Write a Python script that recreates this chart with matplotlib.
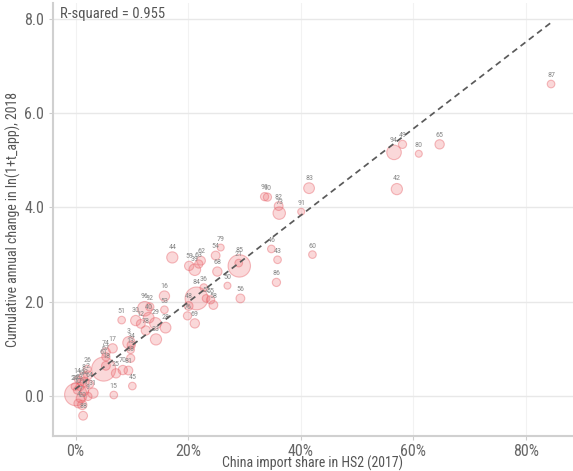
import matplotlib
matplotlib.use("Agg")
import matplotlib.pyplot as plt
from matplotlib.ticker import FuncFormatter, MultipleLocator
import numpy as np

plt.rcParams['font.family'] = ['Roboto Condensed', 'Liberation Sans Narrow', 'Roboto', 'DejaVu Sans']

# HS2 chapter, China import share (%), cumulative change in ln(1+t_app), bubble size
codes = ['87', '94', '49', '80', '65', '42', '83', '91', '93', '90', '82', '73',
         '46', '43', '86', '60', '56', '85', '21', '50', '79', '54', '44', '59',
         '39', '63', '62', '68', '36', '84', '48', '76', '69', '52', '55', '58',
         '16', '53', '96', '92', '40', '30', '12', '78', '29', '28', '33', '51',
         '3', '34', '13', '38', '17', '74', '67', '61', '18', '25', '70', '81',
         '45', '15', '27', '31', '26', '2', '8', '22', '23', '24', '10', '19',
         '4', '7', '20', '9', '88', '11', '14', '64']
share = [84.5, 56.6, 58.1, 61.0, 64.7, 57.1, 41.5, 40.1, 33.6, 34.1, 36.1, 36.2,
         34.8, 35.9, 35.7, 42.1, 29.3, 29.1, 29.0, 27.0, 25.8, 24.9, 17.2, 20.2,
         21.2, 21.9, 22.3, 25.2, 22.8, 21.5, 20.1, 19.9, 21.2, 23.2, 24.0, 24.5,
         15.8, 15.8, 12.3, 13.2, 13.0, 10.7, 11.6, 12.5, 14.2, 16.0, 14.3, 8.2,
         9.5, 9.9, 9.8, 9.8, 6.6, 5.4, 5.4, 5.0, 5.4, 7.2, 8.4, 9.4,
         10.1, 6.8, 0.05, 3.1, 2.1, 2.2, 1.4, 1.6, 0.8, -0.1, 0.3, 1.0,
         0.5, 0.9, 1.2, 2.2, 1.35, 1.6, 0.4, 2.5]
change = [6.62, 5.17, 5.34, 5.14, 5.34, 4.39, 4.41, 3.91, 4.23, 4.22, 4.03, 3.88,
          3.12, 2.89, 2.41, 3.00, 2.07, 2.76, 2.82, 2.34, 3.15, 2.98, 2.94, 2.76,
          2.68, 2.80, 2.87, 2.64, 2.30, 2.07, 1.91, 1.70, 1.54, 2.07, 2.04, 1.93,
          2.12, 1.83, 1.85, 1.89, 1.66, 1.60, 1.53, 1.39, 1.54, 1.45, 1.20, 1.61,
          1.13, 1.08, 0.98, 0.80, 1.01, 0.93, 0.83, 0.57, 0.64, 0.48, 0.55, 0.54,
          0.21, 0.02, 0.03, 0.06, 0.57, 0.44, 0.41, 0.30, 0.20, 0.20, 0.12, 0.30,
          -0.16, -0.05, -0.19, -0.01, -0.42, 0.10, 0.35, 0.25]
weight = [30, 110, 35, 25, 45, 65, 60, 25, 35, 35, 40, 80,
          30, 30, 35, 30, 40, 260, 30, 25, 25, 40, 65, 45,
          70, 35, 40, 45, 30, 270, 40, 35, 45, 30, 35, 40,
          55, 30, 110, 35, 60, 55, 40, 45, 70, 60, 65, 30,
          80, 35, 30, 35, 45, 40, 35, 300, 40, 45, 45, 40,
          30, 30, 260, 55, 30, 40, 40, 45, 35, 30, 30, 30,
          40, 40, 45, 35, 40, 35, 25, 35]

# fitted line
intercept = 0.15
slope = 0.092
r_squared = 0.955

fig = plt.figure(figsize=(5.73, 4.71), dpi=100)
ax = fig.add_axes([53 / 573, 35 / 471, 520 / 573, 433 / 471])

ax.scatter(share, change, s=weight, facecolor=(0.93, 0.4, 0.42, 0.25),
           edgecolor=(0.9, 0.35, 0.38, 0.4), linewidth=0.8, zorder=3)

for c, x, y, w in zip(codes, share, change, weight):
    ax.annotate(c, (x, y), xytext=(0, np.sqrt(w) / 2 + 1.5), textcoords='offset points',
                ha='center', va='bottom', fontsize=5.8, color='#8a8a8a', zorder=4)

xs = np.array([min(share), max(share)])
ax.plot(xs, intercept + slope * xs, ls=(0, (3.5, 2.5)), color='#5a5a5a', lw=1.25, zorder=5)

ax.text(-2.7, 8.1, 'R-squared = %.3f' % r_squared, fontsize=10.5, color='#555555',
        va='center', ha='left')

ax.set_xlim(-4.0, 88.4)
ax.set_ylim(-0.85, 8.34)
ax.xaxis.set_major_locator(MultipleLocator(20))
ax.yaxis.set_major_locator(MultipleLocator(2))
ax.xaxis.set_major_formatter(FuncFormatter(lambda v, p: '%d%%' % v))
ax.yaxis.set_major_formatter(FuncFormatter(lambda v, p: '%.1f' % v))

ax.grid(axis='y', color='#e8e8e8', lw=1.0)
ax.grid(axis='x', color='#f2f2f2', lw=0.8)
ax.set_axisbelow(True)
for side in ['top', 'right']:
    ax.spines[side].set_visible(False)
for side in ['left', 'bottom']:
    ax.spines[side].set_color('#d0d0d0')
    ax.spines[side].set_linewidth(1.5)
ax.tick_params(colors='#cccccc', labelcolor='#666666', labelsize=11.5, length=3)
ax.tick_params(axis='x', pad=2.5)

ax.set_xlabel('China import share in HS2 (2017)', fontsize=10, color='#555555')
ax.set_ylabel('Cumulative annual change in ln(1+t_app), 2018', fontsize=10,
              color='#555555')
ax.xaxis.set_label_coords(0.5, -0.045)
ax.yaxis.set_label_coords(-0.062, 0.5)

fig.savefig('out.png', dpi=100)
